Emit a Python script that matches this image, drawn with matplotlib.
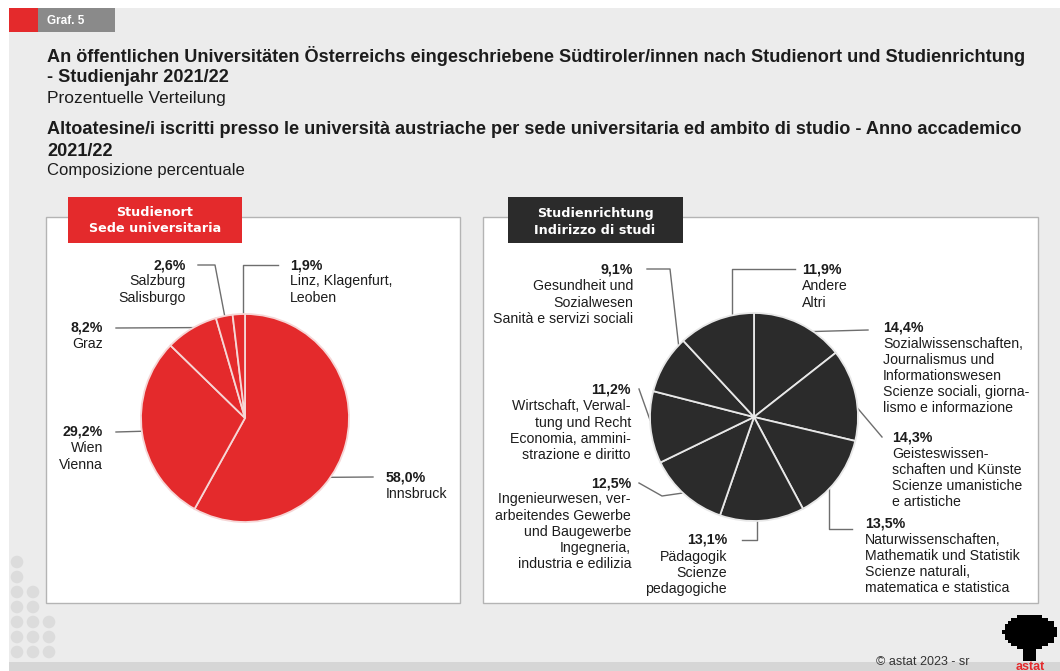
import numpy as np
import matplotlib
matplotlib.use('Agg')
import matplotlib.pyplot as plt
from matplotlib.patches import Rectangle, Circle

plt.rcParams['font.family'] = ['Liberation Sans', 'DejaVu Sans']

# --- Daten / dati ---
ort_labels = ['Innsbruck', 'Wien\nVienna', 'Graz', 'Salzburg\nSalisburgo',
              'Linz, Klagenfurt,\nLeoben']
ort_values = [58.0, 29.2, 8.2, 2.6, 1.9]

richt_labels = [
    'Sozialwissenschaften,\nJournalismus und\nInformationswesen\nScienze sociali, giorna-\nlismo e informazione',
    'Geisteswissen-\nschaften und Künste\nScienze umanistiche\ne artistiche',
    'Naturwissenschaften,\nMathematik und Statistik\nScienze naturali,\nmatematica e statistica',
    'Pädagogik\nScienze\npedagogiche',
    'Ingenieurwesen, ver-\narbeitendes Gewerbe\nund Baugewerbe\nIngegneria,\nindustria e edilizia',
    'Wirtschaft, Verwal-\ntung und Recht\nEconomia, ammini-\nstrazione e diritto',
    'Gesundheit und\nSozialwesen\nSanità e servizi sociali',
    'Andere\nAltri',
]
richt_values = [14.4, 14.3, 13.5, 13.1, 12.5, 11.2, 9.1, 11.9]

RED = '#e42a2c'
DARK = '#2b2b2b'
TXT = '#1c1c1c'
LEAD = '#6e6e6e'
LBL_SIZE = 10.2

W, H = 1060, 671
fig = plt.figure(figsize=(W / 100, H / 100), dpi=100)
fig.patch.set_facecolor('white')

# Hintergrund-Achse in Pixelkoordinaten
bg = fig.add_axes([0, 0, 1, 1])
bg.set_xlim(0, W)
bg.set_ylim(H, 0)
bg.axis('off')

bg.add_patch(Rectangle((9, 8), W - 9, 655, color='#ececec', lw=0))
bg.add_patch(Rectangle((9, 662), W - 9, 9, color='#d6d6d6', lw=0))

# Deko-Punkte links unten
for col, first_row in [(17, 0), (33, 2), (49, 4)]:
    for row in range(first_row, 7):
        bg.add_patch(Circle((col, 562 + row * 15), 6.3, color='#dcdcdc', lw=0))

# Graf. 5
bg.add_patch(Rectangle((9, 8), 29, 24, color=RED, lw=0))
bg.add_patch(Rectangle((38, 8), 77, 24, color='#8a8a8a', lw=0))
bg.text(47, 20.5, 'Graf. 5', color='white', fontsize=8.5, fontweight='bold', va='center')

# Titel
bg.text(47, 56, 'An öffentlichen Universitäten Österreichs eingeschriebene Südtiroler/innen '
        'nach Studienort und Studienrichtung', fontsize=13.1, fontweight='bold', color=TXT, va='center')
bg.text(47, 77, '- Studienjahr 2021/22', fontsize=13.1, fontweight='bold', color=TXT, va='center')
bg.text(47, 98, 'Prozentuelle Verteilung', fontsize=12.5, color=TXT, va='center')
bg.text(47, 130, 'Altoatesine/i iscritti presso le università austriache per sede universitaria '
        'ed ambito di studio - Anno accademico', fontsize=13.1, fontweight='bold', color=TXT, va='center')
bg.text(47, 151, '2021/22', fontsize=13.1, fontweight='bold', color=TXT, va='center')
bg.text(47, 171, 'Composizione percentuale', fontsize=12, color=TXT, va='center')

# Panels
bg.add_patch(Rectangle((46, 217), 414, 386, facecolor='white', edgecolor='#b4b4b4', lw=1))
bg.add_patch(Rectangle((483, 217), 555, 386, facecolor='white', edgecolor='#b4b4b4', lw=1))

hdr = dict(color='white', fontsize=9.2, fontweight='bold', ha='center', va='center',
           family=['DejaVu Sans'])
bg.add_patch(Rectangle((68, 197), 174, 46, color=RED, lw=0))
bg.text(155, 212, 'Studienort', **hdr)
bg.text(155, 229, 'Sede universitaria', **hdr)

bg.add_patch(Rectangle((508, 197), 175, 46, color=DARK, lw=0))
bg.text(595, 213, 'Studienrichtung', **hdr)
bg.text(595, 230, 'Indirizzo di studi', **hdr)

# Fußzeile
bg.text(876, 662, '© astat 2023 - sr', fontsize=9, color='#333333', va='center')
gx, gy = np.meshgrid(np.arange(1004, 1057, 3), np.arange(614, 662, 3))
blob = (((gx - 1030) / 26.0) ** 2 + ((gy - 632) / 17.0) ** 2 <= 1) | ((abs(gx - 1030) < 6) & (gy > 640))
bg.scatter(gx[blob], gy[blob], s=5, marker='s', color='black', lw=0)
bg.text(1030, 667, 'astat', color=RED, fontsize=9, fontweight='bold', ha='center', va='center')


def pie_axes(cx, cy, r):
    ax = fig.add_axes([(cx - r) / W, (H - cy - r) / H, 2 * r / W, 2 * r / H])
    return ax


def edge_point(ax, wedge, frac):
    th = np.radians(wedge.theta1 + frac * (wedge.theta2 - wedge.theta1))
    disp = ax.transData.transform((wedge.r * np.cos(th), wedge.r * np.sin(th)))
    return bg.transData.inverted().transform(disp)


def pct(v):
    return f'{v:.1f}%'.replace('.', ',')


def draw_labels(ax, wedges, values, labels, layout):
    for i, (x, y, ha, path, frac) in enumerate(layout):
        ax_pt = edge_point(ax, wedges[i], frac)
        pts = [(ax_pt[0] if px is None else px, ax_pt[1] if py is None else py) for px, py in path]
        pts.append(tuple(ax_pt))
        xs, ys = zip(*pts)
        bg.plot(xs, ys, color=LEAD, lw=1)
        bg.text(x, y, pct(values[i]), fontsize=LBL_SIZE, fontweight='bold', color=TXT, ha=ha, va='center')
        bg.text(x, y + 9.5, labels[i], fontsize=LBL_SIZE, color=TXT, ha=ha, va='top',
                multialignment=ha, linespacing=1.2)


# Studienort
ax1 = pie_axes(245, 418, 104)
w1, _ = ax1.pie(ort_values, colors=[RED] * len(ort_values), startangle=90, counterclock=False,
                wedgeprops=dict(edgecolor='#f6d6d6', linewidth=1.3, clip_on=False))
ax1.set_xlim(-1, 1)
ax1.set_ylim(-1, 1)
ax1.axis('off')

ort_layout = [
    (386, 477, 'left', [(373, 477)], 0.403),
    (103, 432, 'right', [(116, 432)], 0.49),
    (103, 328, 'right', [(116, 328)], 0.454),
    (186, 265, 'right', [(198, 265), (215, 265)], 0.47),
    (290, 265, 'left', [(278, 265), (None, 265)], 0.16),
]
draw_labels(ax1, w1, ort_values, ort_labels, ort_layout)

# Studienrichtung
ax2 = pie_axes(754, 417, 104)
w2, _ = ax2.pie(richt_values, colors=[DARK] * len(richt_values), startangle=90, counterclock=False,
                wedgeprops=dict(edgecolor='#e8e8e8', linewidth=1.3, clip_on=False))
ax2.set_xlim(-1, 1)
ax2.set_ylim(-1, 1)
ax2.axis('off')

richt_layout = [
    (883, 327, 'left', [(868, 330)], 0.33),
    (892, 437, 'left', [(882, 437)], 0.353),
    (865, 523, 'left', [(852, 529), (None, 529)], 0.38),
    (727, 540, 'right', [(742, 540), (None, 540)], 0.44),
    (631, 483, 'right', [(639, 483), (662, 496)], 0.467),
    (631, 390, 'right', [(639, 389)], 0.40),
    (633, 270, 'right', [(647, 269), (670, 269)], 0.11),
    (802, 270, 'left', [(795, 269), (None, 269)], 0.285),
]
draw_labels(ax2, w2, richt_values, richt_labels, richt_layout)

fig.savefig('out.png', dpi=100)
